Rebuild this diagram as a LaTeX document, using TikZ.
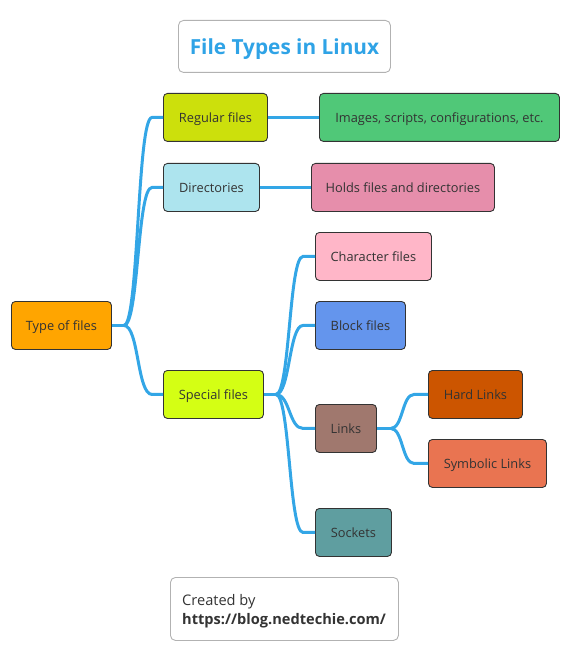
\documentclass[tikz,border=0pt]{standalone}
\usepackage{fontspec}
\setmainfont{Open Sans}
\definecolor{conn}{HTML}{33A6E6}
\definecolor{txt}{HTML}{333333}
\definecolor{cTof}{HTML}{FFA500}
\definecolor{cReg}{HTML}{CCE00C}
\definecolor{cDir}{HTML}{ADE4EE}
\definecolor{cSpe}{HTML}{D4FF14}
\definecolor{cImg}{HTML}{50C878}
\definecolor{cHol}{HTML}{E68EAB}
\definecolor{cChr}{HTML}{FFB6C8}
\definecolor{cBlk}{HTML}{6495ED}
\definecolor{cLnk}{HTML}{A0786E}
\definecolor{cHrd}{HTML}{CC5500}
\definecolor{cSym}{HTML}{E97451}
\definecolor{cSoc}{HTML}{5F9EA0}
\definecolor{ttl}{HTML}{2FA3E6}
\tikzset{
  box/.style={draw=txt, line width=0.9pt, rounded corners=4pt, minimum height=48pt,
    inner sep=0pt, text=txt, font=\fontsize{12.8}{15}\selectfont, anchor=north west,
    text height=11pt, text depth=0pt},
  link/.style={draw=conn, line width=3pt},
}
\begin{document}
\begin{tikzpicture}[x=1pt,y=-1pt]
\useasboundingbox (0,0) rectangle (571,663);
% title
\node[draw=black!30, line width=0.9pt, rounded corners=5pt, minimum width=212pt, minimum height=52pt, anchor=north west,
  inner sep=0pt, text height=17pt, text depth=0pt,
  text=ttl, font=\fontsize{20.8}{25}\selectfont\bfseries] (title) at (178,20) {File Types in Linux};
% nodes
\node[box, fill=cTof, minimum width=100pt] (tof) at (11,301) {Type of files};
\node[box, fill=cReg, minimum width=104pt] (reg) at (163,93) {Regular files};
\node[box, fill=cDir, minimum width=96pt] (dir) at (163,163) {Directories};
\node[box, fill=cSpe, minimum width=100pt] (spe) at (163,370) {Special files};
\node[box, fill=cImg, minimum width=240pt] (img) at (319,93) {Images, scripts, configurations, etc.};
\node[box, fill=cHol, minimum width=183pt] (hol) at (311,163) {Holds files and directories};
\node[box, fill=cChr, minimum width=116pt] (chr) at (315,232) {Character files};
\node[box, fill=cBlk, minimum width=90pt] (blk) at (315,301) {Block files};
\node[box, fill=cLnk, minimum width=61pt] (lnk) at (315,404) {Links};
\node[box, fill=cHrd, minimum width=94pt] (hrd) at (428,370) {Hard Links};
\node[box, fill=cSym, minimum width=118pt] (sym) at (428,439) {Symbolic Links};
\node[box, fill=cSoc, minimum width=76pt] (soc) at (315,508) {Sockets};
% credit
\node[draw=black!30, line width=0.9pt, rounded corners=5pt, minimum width=228pt, minimum height=63pt, anchor=north west] (cred) at (170,577) {};
\node[anchor=west, align=left, text=txt, font=\fontsize{14.6}{19.5}\selectfont, inner sep=0pt] (credtxt) at ([xshift=12pt,yshift=-2pt]cred.west) {Created by\\\textbf{https://blog.nedtechie.com/}};
% junctions
\coordinate (jT) at ([xshift=12pt]tof.east);
\coordinate (jS) at ([xshift=12pt]spe.east);
\coordinate (jL) at ([xshift=14pt]lnk.east);
% connectors
\draw[link] (tof.east) -- (jT);
\foreach \t in {reg,dir,spe}{
  \draw[link] (jT) .. controls +(15,0) and +(-15,0) .. ([xshift=-11pt]\t.west) -- (\t.west);
}
\draw[link] (reg.east) -- (img.west);
\draw[link] (dir.east) -- (hol.west);
\draw[link] (spe.east) -- (jS);
\foreach \t in {chr,blk,lnk,soc}{
  \draw[link] (jS) .. controls +(14,0) and +(-14,0) .. ([xshift=-12pt]\t.west) -- (\t.west);
}
\draw[link] (lnk.east) -- (jL);
\foreach \t in {hrd,sym}{
  \draw[link] (jL) .. controls +(12,0) and +(-12,0) .. ([xshift=-14pt]\t.west) -- (\t.west);
}
\end{tikzpicture}
\end{document}
